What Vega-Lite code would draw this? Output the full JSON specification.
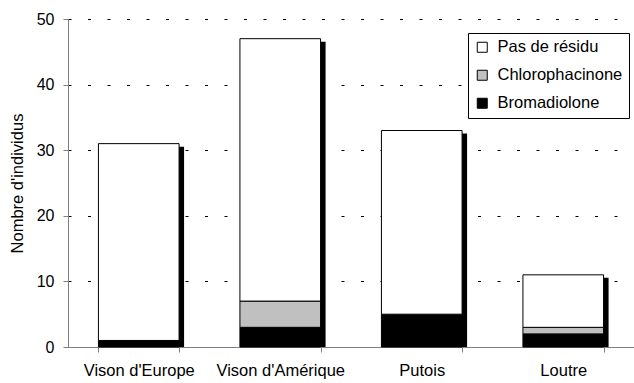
{
  "$schema": "https://vega.github.io/schema/vega-lite/v6.json",
  "autosize": "none",
  "width": 566,
  "height": 328,
  "padding": {"left": 68, "top": 19, "right": 0, "bottom": 36},
  "background": "white",
  "config": {
    "font": "Liberation Sans",
    "view": {"stroke": null},
    "axis": {"labelFont": "Liberation Sans", "titleFont": "Liberation Sans"}
  },
  "data": {
    "values": [
      {"espece": "Vison d'Europe", "residu": "Bromadiolone", "ordre": 1, "n": 1},
      {"espece": "Vison d'Europe", "residu": "Pas de résidu", "ordre": 3, "n": 30},
      {"espece": "Vison d'Amérique", "residu": "Bromadiolone", "ordre": 1, "n": 3},
      {"espece": "Vison d'Amérique", "residu": "Chlorophacinone", "ordre": 2, "n": 4},
      {"espece": "Vison d'Amérique", "residu": "Pas de résidu", "ordre": 3, "n": 40},
      {"espece": "Putois", "residu": "Bromadiolone", "ordre": 1, "n": 5},
      {"espece": "Putois", "residu": "Pas de résidu", "ordre": 3, "n": 28},
      {"espece": "Loutre", "residu": "Bromadiolone", "ordre": 1, "n": 2},
      {"espece": "Loutre", "residu": "Chlorophacinone", "ordre": 2, "n": 1},
      {"espece": "Loutre", "residu": "Pas de résidu", "ordre": 3, "n": 8}
    ]
  },
  "encoding": {
    "x": {
      "field": "espece",
      "type": "nominal",
      "sort": ["Vison d'Europe", "Vison d'Amérique", "Putois", "Loutre"],
      "scale": {"paddingInner": 0.43, "paddingOuter": 0.215},
      "axis": {
        "title": null,
        "labelAngle": 0,
        "labelFontSize": 16.5,
        "labelColor": "black",
        "labelPadding": 10,
        "tickBand": "extent",
        "tickSize": 5,
        "tickColor": "#808080",
        "domainColor": "#808080",
        "grid": false
      }
    }
  },
  "layer": [
    {
      "mark": {"type": "bar", "color": "black", "xOffset": 5, "yOffset": 3},
      "encoding": {
        "y": {"aggregate": "sum", "field": "n", "type": "quantitative", "scale": {"domain": [0, 50]}}
      }
    },
    {
      "mark": {"type": "bar", "stroke": "black", "strokeWidth": 1},
      "encoding": {
        "y": {
          "field": "n",
          "type": "quantitative",
          "stack": "zero",
          "scale": {"domain": [0, 50]},
          "axis": {
            "title": "Nombre d'individus",
            "titleFontSize": 16.5,
            "titleFontWeight": "normal",
            "titleColor": "black",
            "titlePadding": 11,
            "values": [0, 10, 20, 30, 40, 50],
            "labelFontSize": 16,
            "labelColor": "black",
            "labelPadding": 9,
            "tickSize": 5,
            "tickColor": "#808080",
            "domainColor": "#808080",
            "grid": true,
            "gridColor": "black",
            "gridDash": [3, 16.5],
            "gridWidth": 1
          }
        },
        "order": {"field": "ordre", "type": "quantitative", "sort": "ascending"},
        "color": {
          "field": "residu",
          "type": "nominal",
          "scale": {
            "domain": ["Pas de résidu", "Chlorophacinone", "Bromadiolone"],
            "range": ["white", "#c0c0c0", "black"]
          },
          "legend": {
            "title": null,
            "orient": "none",
            "legendX": 400,
            "legendY": 14,
            "direction": "vertical",
            "symbolType": "square",
            "symbolSize": 100,
            "symbolStrokeColor": "black",
            "symbolStrokeWidth": 1,
            "labelFontSize": 16.5,
            "labelColor": "black",
            "labelOffset": 7,
            "rowPadding": 11,
            "padding": 6,
            "strokeColor": "black",
            "fillColor": "white"
          }
        }
      }
    }
  ]
}
